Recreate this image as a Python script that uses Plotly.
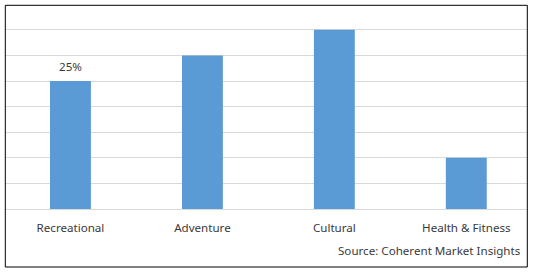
import plotly.graph_objects as go

categories = ["Recreational", "Adventure", "Cultural", "Health & Fitness"]
values = [25, 30, 35, 10]
labels = ["25%", "", "", ""]

W, H = 538, 272
FS = 11.6
TXT = "#3a3a3a"
fig = go.Figure(go.Bar(
    x=categories, y=values,
    marker=dict(color="#5b9bd5", line=dict(width=0)),
    width=0.31,
))
annotations = [dict(text=t, x=c, y=v, xref="x", yref="y", yanchor="bottom", yshift=5,
                    showarrow=False, font=dict(family="Noto Sans", size=FS, color=TXT))
               for c, v, t in zip(categories, values, labels) if t]
annotations.append(dict(text="Source: Coherent Market Insights", xref="paper", yref="paper",
                        x=522.5 / W, y=(H - 250) / H, xanchor="right", yanchor="middle",
                        showarrow=False, font=dict(family="Noto Sans", size=FS, color=TXT)))
fig.update_layout(
    width=W, height=H, margin=dict(l=0, r=0, t=0, b=0),
    plot_bgcolor="white", paper_bgcolor="white", showlegend=False,
    font=dict(family="Noto Sans", size=FS, color=TXT),
    xaxis=dict(domain=[4.5 / W, 527 / W], range=[-0.5, 3.46], showgrid=False,
               ticks="outside", ticklen=0, ticklabelstandoff=8, showline=False,
               tickfont=dict(family="Noto Sans", size=FS, color=TXT)),
    yaxis=dict(domain=[(H - 209) / H, (H - 4.2) / H], range=[0, 40], dtick=5,
               showgrid=True, gridcolor="#d9d9d9", gridwidth=1, zeroline=True,
               zerolinecolor="#d9d9d9", zerolinewidth=1, showticklabels=False,
               showline=False),
    shapes=[dict(type="rect", xref="paper", yref="paper",
                 x0=5.3 / W, x1=527.3 / W, y0=(H - 267) / H, y1=(H - 5.3) / H,
                 line=dict(color="black", width=1))],
    annotations=annotations,
)
fig.write_html("out.html")
